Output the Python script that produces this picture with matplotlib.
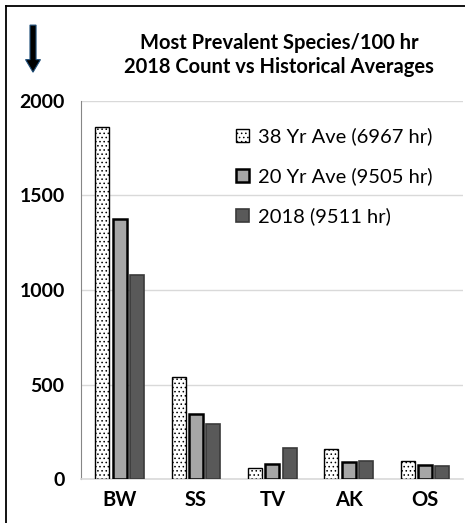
import numpy as np
import matplotlib
matplotlib.use('Agg')
import matplotlib.pyplot as plt
from matplotlib.lines import Line2D

species = ['BW', 'SS', 'TV', 'AK', 'OS']
ave_38yr = [1860, 540, 58, 160, 95]
ave_20yr = [1378, 342, 80, 88, 72]
count_2018 = [1080, 293, 166, 95, 69]
series_labels = ['38 Yr Ave (6967 hr)', '20 Yr Ave (9505 hr)', '2018 (9511 hr)']
yticks = [0, 500, 1000, 1500, 2000]

plt.rcParams['font.family'] = ['Lato', 'DejaVu Sans']
plt.rcParams['hatch.linewidth'] = 0.6
plt.rcParams['hatch.color'] = '#777777'

fig = plt.figure(figsize=(4.65, 5.23), dpi=100)
ax = fig.add_axes([0.175, 0.084, 0.821, 0.723])

x = np.arange(len(species))
w = 0.183
step = 0.227

ax.bar(x - step, ave_38yr, w, color='white', edgecolor='black',
       linewidth=1.0, hatch='....', label=series_labels[0], zorder=3)
ax.bar(x, ave_20yr, w, color='#a6a6a6', edgecolor='black',
       linewidth=1.8, label=series_labels[1], zorder=3)
ax.bar(x + step, count_2018, w, color='#595959', edgecolor='#3a3a3a',
       linewidth=1.2, label=series_labels[2], zorder=3)

ax.set_xlim(-0.5, len(species) - 0.5)
ax.set_ylim(0, 2000)
ax.set_yticks(yticks)
ax.set_yticklabels([str(v) for v in yticks], fontsize=14, fontweight='bold')
ax.set_xticks(x)
ax.set_xticklabels(species, fontsize=14.5, fontweight='bold')
ax.tick_params(axis='both', length=0)
ax.tick_params(axis='y', pad=12)
ax.tick_params(axis='x', pad=8)
ax.grid(axis='y', color='#d9d9d9', linewidth=1.0, zorder=0)
for side in ['top', 'right']:
    ax.spines[side].set_visible(False)
ax.spines['left'].set_color('#868686')
ax.spines['bottom'].set_color('#d9d9d9')
ax.spines['bottom'].set_linewidth(1.2)

leg = ax.legend(loc='upper left', bbox_to_anchor=(0.405, 0.93), frameon=False,
                fontsize=14.5, handlelength=0.65, handleheight=0.65,
                handletextpad=0.45, labelspacing=1.1,
                borderpad=0, borderaxespad=0)

fig.text(0.6, 0.895, 'Most Prevalent Species/100 hr\n2018 Count vs Historical Averages',
         ha='center', va='center', fontsize=14.5, fontweight='bold',
         linespacing=1.25)

# down arrow in the top-left corner
fig.patches.append(matplotlib.patches.FancyArrow(
    0.071, 0.952, 0, -0.09, width=0.013, head_width=0.032, head_length=0.024,
    length_includes_head=True, transform=fig.transFigure,
    facecolor='black', edgecolor='#1f4e79', linewidth=0.8))

# outer frame, left and top edges
fig.add_artist(Line2D([0.013, 0.013], [0.0, 0.989], color='black', linewidth=1.3))
fig.add_artist(Line2D([0.013, 1.0], [0.989, 0.989], color='black', linewidth=1.3))

fig.savefig('out.png', dpi=100)
